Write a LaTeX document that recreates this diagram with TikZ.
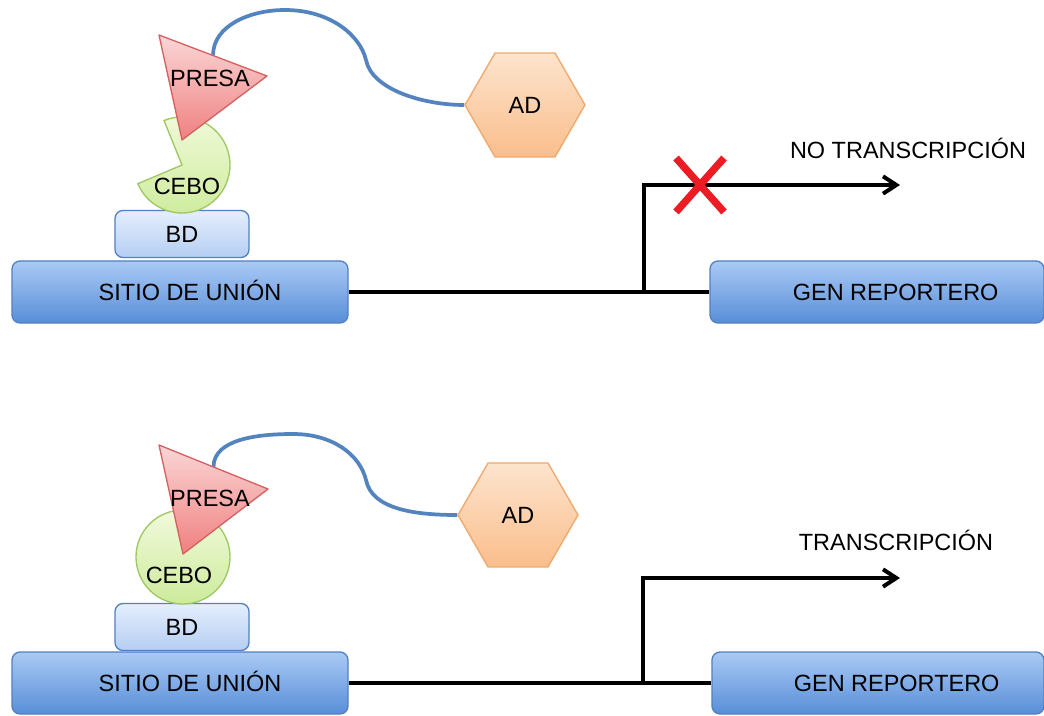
\documentclass[tikz,border=0pt]{standalone}
\usepackage{fontspec}
\setmainfont{Liberation Sans}
\usetikzlibrary{shapes.geometric,arrows.meta,calc}

\definecolor{azul}{RGB}{88,142,216}
\definecolor{azulclaro}{RGB}{170,202,245}
\definecolor{azulborde}{RGB}{82,128,192}
\definecolor{bdarriba}{RGB}{228,238,253}
\definecolor{bdabajo}{RGB}{182,206,243}
\definecolor{verdeclaro}{RGB}{242,250,220}
\definecolor{verde}{RGB}{205,235,155}
\definecolor{verdeborde}{RGB}{158,200,100}
\definecolor{rosa}{RGB}{251,214,214}
\definecolor{rojo}{RGB}{240,128,128}
\definecolor{rojoborde}{RGB}{212,98,98}
\definecolor{naranjaclaro}{RGB}{253,228,205}
\definecolor{naranja}{RGB}{250,190,140}
\definecolor{naranjaborde}{RGB}{240,168,108}
\definecolor{cuerdaazul}{RGB}{84,132,192}
\definecolor{cruzroja}{RGB}{236,28,36}

\begin{document}
\begin{tikzpicture}[x=0.75pt,y=-0.75pt,
  font=\fontsize{17.6}{20}\selectfont,
  every node/.style={text height=12.6pt,text depth=0pt,inner sep=0pt},
  sitio/.style={draw=azulborde,line width=1pt,rounded corners=6pt,top color=azulclaro,bottom color=azul,minimum height=46.5pt},
  bd/.style={draw=azulborde,line width=1pt,rounded corners=6pt,top color=bdarriba,bottom color=bdabajo,minimum width=100.5pt,minimum height=35.25pt},
  cebo/.style={draw=verdeborde,line width=1pt,top color=verdeclaro,bottom color=verde},
  presa/.style={draw=rojoborde,line width=1pt,line join=round,top color=rosa,bottom color=rojo},
  hexa/.style={regular polygon,regular polygon sides=6,minimum size=90pt,draw=naranjaborde,line width=1pt,top color=naranjaclaro,bottom color=naranja},
  cuerda/.style={draw=cuerdaazul,line width=2.8pt},
  linea/.style={line width=3pt},
  flecha/.style={linea,-{Straight Barb[length=10pt,width=13pt]}},
  cruz/.style={draw=cruzroja,line width=5.5pt}]
\useasboundingbox (0,0) rectangle (1044,716);

% panel superior
\coordinate (pa1) at (159,35);
\coordinate (pb1) at (267,76);
\coordinate (pc1) at (182,140);
\node[hexa] (ad1) at (525,105) {AD};
\draw[cuerda] ($(pa1)!0.5!(pb1)$) .. controls +(0,-30) and +(-35,0) .. (285,10)
  .. controls +(45,0) and +(-6,-25) .. (366,60)
  .. controls +(6,30) and +(-40,0) .. (ad1.corner 3);
\node[sitio,minimum width=252pt,label={[xshift=7.5pt]center:SITIO DE UNIÓN}] (sitio1) at (180,292) {};
\node[bd] (bd1) at (182,234) {BD};
\draw[cebo] (182,165) -- +(-203:48) arc[start angle=-203,end angle=-472,radius=48] -- cycle;
\draw[presa] (pa1) -- (pb1) -- (pc1) -- cycle;
\node (presa1) at (210,78) {PRESA};
\node (cebo1) at (187,186) {CEBO};
\node[sitio,minimum width=250.5pt,label={[xshift=14pt]center:GEN REPORTERO}] (gen1) at (877,292) {};
\coordinate (r1) at (644,292);
\coordinate (t1) at (900,185);
\draw[linea] (sitio1.east) -- (gen1.west);
\draw[flecha] (r1) |- (t1);
\draw[cruz] (676,158) -- (724,212) (724,158) -- (676,212);
\node (no1) at (908,150) {NO TRANSCRIPCIÓN};

% panel inferior
\coordinate (pa2) at (159,445);
\coordinate (pb2) at (268,489);
\coordinate (pc2) at (183,554);
\node[hexa] (ad2) at (518,515) {AD};
\draw[cuerda] ($(pa2)!0.5!(pb2)$) .. controls +(0,-28) and +(-35,0) .. (293,434)
  .. controls +(40,0) and +(-6,-25) .. (366,480)
  .. controls +(6,30) and +(-40,0) .. (ad2.corner 3);
\node[sitio,minimum width=252pt,label={[xshift=7.5pt]center:SITIO DE UNIÓN}] (sitio2) at (180,683) {};
\node[bd] (bd2) at (182,627) {BD};
\draw[cebo] (183,557) circle[radius=47];
\draw[presa] (pa2) -- (pb2) -- (pc2) -- cycle;
\node (presa2) at (210,498) {PRESA};
\node (cebo2) at (179,575) {CEBO};
\node[sitio,minimum width=249pt,label={[xshift=14pt]center:GEN REPORTERO}] (gen2) at (878,683) {};
\coordinate (r2) at (643,683);
\coordinate (t2) at (900,578);
\draw[linea] (sitio2.east) -- (gen2.west);
\draw[flecha] (r2) |- (t2);
\node (si2) at (896,542) {TRANSCRIPCIÓN};
\end{tikzpicture}
\end{document}
